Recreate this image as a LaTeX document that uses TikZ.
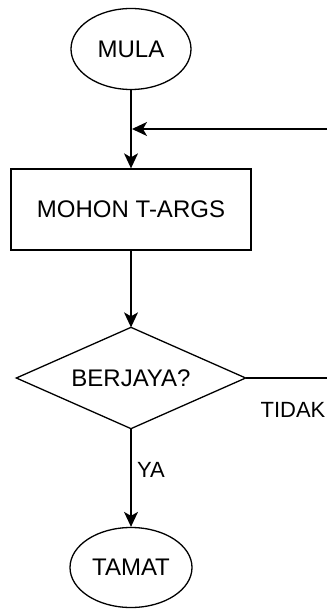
\documentclass[tikz,border=0pt]{standalone}
\usepackage{fontspec}
\setmainfont{Liberation Sans}
\usetikzlibrary{shapes.geometric,arrows.meta}
\begin{document}
\begin{tikzpicture}[x=1pt,y=-1pt,
  base/.style={line width=1.3pt,inner sep=0pt,font=\fontsize{24}{28}\selectfont},
  term/.style={base,draw,ellipse},
  procbox/.style={base,draw,rectangle},
  decide/.style={base,rectangle},
  flow/.style={line width=1.3pt,-{Stealth[length=15pt,width=14pt,inset=4pt]}},
  plain/.style={line width=1.3pt},
  lbl/.style={font=\fontsize{22}{26}\selectfont,inner sep=0pt}]
\useasboundingbox (0,0) rectangle (327,609);
\node[term,minimum width=120pt,minimum height=81pt] (mula) at (131,49) {MULA};
\node[procbox,minimum width=240pt,minimum height=81pt] (mohon) at (131,209.5) {MOHON T-ARGS};
\node[decide,minimum width=228pt,minimum height=100pt] (berjaya) at (131,378) {BERJAYA?};
\draw[plain,line join=miter] (berjaya.north) -- (berjaya.east) -- (berjaya.south) -- (berjaya.west) -- cycle;
\node[term,minimum width=122pt,minimum height=80pt] (tamat) at (131,567.5) {TAMAT};
\coordinate (loopin) at (327,129);
\coordinate (loophit) at (132,129);
\coordinate (tidakend) at (327,378);
\draw[flow] (mula) -- (mohon);
\draw[flow] (loopin) -- (loophit);
\draw[flow] (mohon.south) -- (berjaya.north);
\draw[plain] (berjaya.east) -- (tidakend);
\draw[flow] (berjaya.south) -- (tamat);
\node[lbl] (tidak) at (293,410) {TIDAK};
\node[lbl] (ya) at (151,470) {YA};
\end{tikzpicture}
\end{document}
